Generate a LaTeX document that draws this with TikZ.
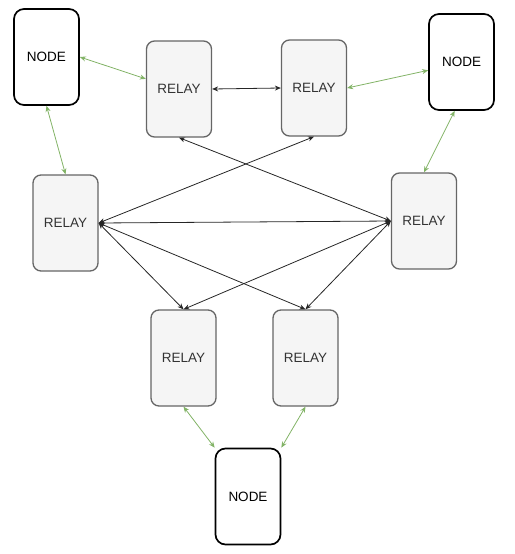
\documentclass[tikz,border=0pt]{standalone}
\usepackage{fontspec}
\setmainfont{Liberation Sans}
\usepackage{xcolor}
\usetikzlibrary{arrows.meta,positioning}
\definecolor{relayfill}{RGB}{245,245,245}
\definecolor{relaygrey}{RGB}{102,102,102}
\definecolor{labelgrey}{RGB}{51,51,51}
\definecolor{accessgreen}{RGB}{130,179,102}
\tikzset{
  relay/.style={draw=relaygrey,line width=1.3pt,fill=relayfill,rounded corners=8pt,
    minimum width=65pt,minimum height=96pt,inner sep=0pt,text=labelgrey,
    font=\fontsize{13.5}{15}\selectfont},
  endpoint/.style={draw=black,line width=1.7pt,fill=white,rounded corners=10pt,
    minimum width=65pt,minimum height=96pt,inner sep=0pt,
    font=\fontsize{13.5}{15}\selectfont},
  peer/.style={{Stealth[length=6pt,width=5pt]}-{Stealth[length=6pt,width=5pt]},
    line width=0.8pt,draw=black!85},
  access/.style={{Stealth[length=6pt,width=5pt]}-{Stealth[length=6pt,width=5pt]},
    line width=0.8pt,draw=accessgreen}
}

\begin{document}
\begin{tikzpicture}[x=1pt,y=-1pt]
  \useasboundingbox (0,0) rectangle (514,554);
  % end points
  \node[endpoint] (nodeA) at (46.5,57) {NODE};
  \node[endpoint] (nodeB) at (461.5,62) {NODE};
  \node[endpoint] (nodeC) at (248,496.5) {NODE};
  % relays
  \node[relay] (relayA) at (179,89) {RELAY};
  \node[relay] (relayB) at (314,88) {RELAY};
  \node[relay] (relayC) at (65.5,223) {RELAY};
  \node[relay] (relayD) at (424,221) {RELAY};
  \node[relay] (relayE) at (183.5,358) {RELAY};
  \node[relay] (relayF) at (305.5,358) {RELAY};
  % access links
  \draw[access] (nodeA.east) -- (relayA.163);
  \draw[access] (nodeA.south) -- (relayC.north);
  \draw[access] (relayB.east) -- (nodeB.194);
  \draw[access] (nodeB.262) -- (relayD.north);
  \draw[access] (relayE.south) -- (nodeC.north west);
  \draw[access] (relayF.south) -- (nodeC.north east);
  % relay mesh
  \draw[peer] (relayA.east) -- (relayB.west);
  \draw[peer] (relayA.south) -- (relayD.west);
  \draw[peer] (relayB.south) -- (relayC.east);
  \draw[peer] (relayC.east) -- (relayD.west);
  \draw[peer] (relayC.east) -- (relayE.north);
  \draw[peer] (relayC.east) -- (relayF.north);
  \draw[peer] (relayD.west) -- (relayE.north);
  \draw[peer] (relayD.west) -- (relayF.north);
\end{tikzpicture}
\end{document}
